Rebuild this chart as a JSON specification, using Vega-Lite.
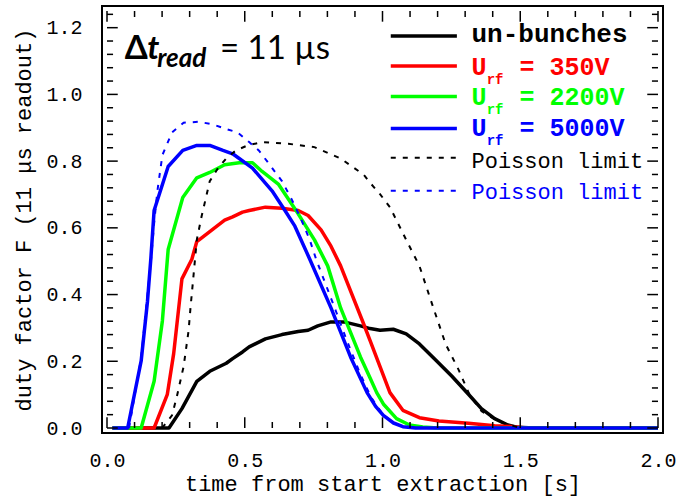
{
  "$schema": "https://vega.github.io/schema/vega-lite/v6.json",
  "width": 561,
  "height": 427,
  "autosize": {"type": "none"},
  "padding": {"left": 102, "top": 6, "right": 15, "bottom": 64},
  "background": "white",
  "config": {
    "view": {"stroke": "black", "strokeWidth": 2},
    "axis": {"domain": false, "ticks": false, "labelColor": "black", "titleColor": "black", "grid": false, "labelFlush": false, "labelOverlap": false}
  },
  "datasets": {
    "solid": [
      {"s":"un","t":0.02,"f":0},{"s":"un","t":0.225,"f":0},{"s":"un","t":0.272,"f":0.058},{"s":"un","t":0.326,"f":0.14},{"s":"un","t":0.373,"f":0.17},{"s":"un","t":0.433,"f":0.194},{"s":"un","t":0.456,"f":0.208},{"s":"un","t":0.492,"f":0.228},{"s":"un","t":0.516,"f":0.243},{"s":"un","t":0.575,"f":0.267},{"s":"un","t":0.635,"f":0.28},{"s":"un","t":0.694,"f":0.289},{"s":"un","t":0.73,"f":0.293},{"s":"un","t":0.765,"f":0.306},{"s":"un","t":0.813,"f":0.318},{"s":"un","t":0.86,"f":0.318},{"s":"un","t":0.92,"f":0.306},{"s":"un","t":0.955,"f":0.298},{"s":"un","t":0.991,"f":0.293},{"s":"un","t":1.039,"f":0.296},{"s":"un","t":1.086,"f":0.282},{"s":"un","t":1.134,"f":0.252},{"s":"un","t":1.193,"f":0.204},{"s":"un","t":1.252,"f":0.155},{"s":"un","t":1.312,"f":0.101},{"s":"un","t":1.359,"f":0.058},{"s":"un","t":1.407,"f":0.028},{"s":"un","t":1.455,"f":0.009},{"s":"un","t":1.49,"f":0.002},{"s":"un","t":1.55,"f":0},{"s":"un","t":2.0,"f":0},
      {"s":"r350","t":0.02,"f":0},{"s":"r350","t":0.171,"f":0},{"s":"r350","t":0.219,"f":0.101},{"s":"r350","t":0.242,"f":0.223},{"s":"r350","t":0.272,"f":0.447},{"s":"r350","t":0.308,"f":0.506},{"s":"r350","t":0.326,"f":0.559},{"s":"r350","t":0.373,"f":0.589},{"s":"r350","t":0.427,"f":0.623},{"s":"r350","t":0.456,"f":0.633},{"s":"r350","t":0.492,"f":0.647},{"s":"r350","t":0.516,"f":0.652},{"s":"r350","t":0.575,"f":0.662},{"s":"r350","t":0.635,"f":0.659},{"s":"r350","t":0.694,"f":0.652},{"s":"r350","t":0.73,"f":0.637},{"s":"r350","t":0.777,"f":0.594},{"s":"r350","t":0.813,"f":0.545},{"s":"r350","t":0.848,"f":0.486},{"s":"r350","t":0.932,"f":0.311},{"s":"r350","t":0.955,"f":0.262},{"s":"r350","t":0.991,"f":0.184},{"s":"r350","t":1.027,"f":0.106},{"s":"r350","t":1.074,"f":0.053},{"s":"r350","t":1.134,"f":0.031},{"s":"r350","t":1.205,"f":0.021},{"s":"r350","t":1.312,"f":0.014},{"s":"r350","t":1.407,"f":0.007},{"s":"r350","t":1.478,"f":0.004},{"s":"r350","t":1.52,"f":0},{"s":"r350","t":2.0,"f":0},
      {"s":"g2200","t":0.02,"f":0},{"s":"g2200","t":0.124,"f":0},{"s":"g2200","t":0.171,"f":0.14},{"s":"g2200","t":0.201,"f":0.321},{"s":"g2200","t":0.222,"f":0.535},{"s":"g2200","t":0.275,"f":0.691},{"s":"g2200","t":0.326,"f":0.75},{"s":"g2200","t":0.373,"f":0.766},{"s":"g2200","t":0.427,"f":0.789},{"s":"g2200","t":0.48,"f":0.795},{"s":"g2200","t":0.528,"f":0.795},{"s":"g2200","t":0.563,"f":0.769},{"s":"g2200","t":0.623,"f":0.73},{"s":"g2200","t":0.694,"f":0.642},{"s":"g2200","t":0.753,"f":0.564},{"s":"g2200","t":0.801,"f":0.486},{"s":"g2200","t":0.848,"f":0.36},{"s":"g2200","t":0.92,"f":0.213},{"s":"g2200","t":0.955,"f":0.15},{"s":"g2200","t":0.979,"f":0.106},{"s":"g2200","t":1.003,"f":0.072},{"s":"g2200","t":1.051,"f":0.028},{"s":"g2200","t":1.098,"f":0.009},{"s":"g2200","t":1.146,"f":0.003},{"s":"g2200","t":1.2,"f":0},{"s":"g2200","t":2.0,"f":0},
      {"s":"b5000","t":0.02,"f":0},{"s":"b5000","t":0.075,"f":0},{"s":"b5000","t":0.124,"f":0.201},{"s":"b5000","t":0.147,"f":0.38},{"s":"b5000","t":0.159,"f":0.506},{"s":"b5000","t":0.171,"f":0.652},{"s":"b5000","t":0.222,"f":0.784},{"s":"b5000","t":0.275,"f":0.832},{"s":"b5000","t":0.326,"f":0.847},{"s":"b5000","t":0.373,"f":0.847},{"s":"b5000","t":0.421,"f":0.832},{"s":"b5000","t":0.456,"f":0.822},{"s":"b5000","t":0.48,"f":0.808},{"s":"b5000","t":0.528,"f":0.779},{"s":"b5000","t":0.599,"f":0.711},{"s":"b5000","t":0.646,"f":0.652},{"s":"b5000","t":0.682,"f":0.605},{"s":"b5000","t":0.736,"f":0.506},{"s":"b5000","t":0.813,"f":0.36},{"s":"b5000","t":0.884,"f":0.213},{"s":"b5000","t":0.944,"f":0.106},{"s":"b5000","t":0.975,"f":0.065},{"s":"b5000","t":1.003,"f":0.038},{"s":"b5000","t":1.04,"f":0.015},{"s":"b5000","t":1.074,"f":0.004},{"s":"b5000","t":1.12,"f":0},{"s":"b5000","t":2.0,"f":0}
    ],
    "dotted": [
      {"s":"pblack","t":0.2,"f":0},{"s":"pblack","t":0.236,"f":0.038},{"s":"pblack","t":0.254,"f":0.096},{"s":"pblack","t":0.278,"f":0.184},{"s":"pblack","t":0.296,"f":0.291},{"s":"pblack","t":0.304,"f":0.369},{"s":"pblack","t":0.314,"f":0.457},{"s":"pblack","t":0.326,"f":0.564},{"s":"pblack","t":0.343,"f":0.633},{"s":"pblack","t":0.373,"f":0.74},{"s":"pblack","t":0.403,"f":0.779},{"s":"pblack","t":0.433,"f":0.808},{"s":"pblack","t":0.468,"f":0.832},{"s":"pblack","t":0.51,"f":0.847},{"s":"pblack","t":0.563,"f":0.857},{"s":"pblack","t":0.658,"f":0.852},{"s":"pblack","t":0.753,"f":0.842},{"s":"pblack","t":0.848,"f":0.808},{"s":"pblack","t":0.932,"f":0.759},{"s":"pblack","t":0.955,"f":0.735},{"s":"pblack","t":0.991,"f":0.701},{"s":"pblack","t":1.027,"f":0.662},{"s":"pblack","t":1.086,"f":0.564},{"s":"pblack","t":1.134,"f":0.486},{"s":"pblack","t":1.181,"f":0.369},{"s":"pblack","t":1.229,"f":0.252},{"s":"pblack","t":1.276,"f":0.175},{"s":"pblack","t":1.318,"f":0.096},{"s":"pblack","t":1.36,"f":0.05},{"s":"pblack","t":1.42,"f":0.02},{"s":"pblack","t":1.5,"f":0},
      {"s":"pblue","t":0.08,"f":0},{"s":"pblue","t":0.124,"f":0.21},{"s":"pblue","t":0.147,"f":0.4},{"s":"pblue","t":0.159,"f":0.496},{"s":"pblue","t":0.171,"f":0.613},{"s":"pblue","t":0.183,"f":0.711},{"s":"pblue","t":0.201,"f":0.818},{"s":"pblue","t":0.236,"f":0.886},{"s":"pblue","t":0.278,"f":0.915},{"s":"pblue","t":0.332,"f":0.918},{"s":"pblue","t":0.385,"f":0.91},{"s":"pblue","t":0.433,"f":0.896},{"s":"pblue","t":0.474,"f":0.886},{"s":"pblue","t":0.516,"f":0.857},{"s":"pblue","t":0.551,"f":0.832},{"s":"pblue","t":0.587,"f":0.793},{"s":"pblue","t":0.635,"f":0.74},{"s":"pblue","t":0.67,"f":0.686},{"s":"pblue","t":0.706,"f":0.623},{"s":"pblue","t":0.736,"f":0.564},{"s":"pblue","t":0.759,"f":0.506},{"s":"pblue","t":0.795,"f":0.428},{"s":"pblue","t":0.831,"f":0.35},{"s":"pblue","t":0.866,"f":0.272},{"s":"pblue","t":0.92,"f":0.16},{"s":"pblue","t":0.96,"f":0.09},{"s":"pblue","t":1.0,"f":0.042},{"s":"pblue","t":1.04,"f":0.015},{"s":"pblue","t":1.08,"f":0.003},{"s":"pblue","t":1.15,"f":0}
    ],
    "xticks": [
      {"v":0,"k":"M"},{"v":0.1,"k":"m"},{"v":0.2,"k":"m"},{"v":0.3,"k":"m"},{"v":0.4,"k":"m"},{"v":0.5,"k":"M"},{"v":0.6,"k":"m"},{"v":0.7,"k":"m"},{"v":0.8,"k":"m"},{"v":0.9,"k":"m"},{"v":1.0,"k":"M"},{"v":1.1,"k":"m"},{"v":1.2,"k":"m"},{"v":1.3,"k":"m"},{"v":1.4,"k":"m"},{"v":1.5,"k":"M"},{"v":1.6,"k":"m"},{"v":1.7,"k":"m"},{"v":1.8,"k":"m"},{"v":1.9,"k":"m"},{"v":2.0,"k":"M"}
    ],
    "yticks": [
      {"v":0,"k":"M"},{"v":0.04,"k":"m"},{"v":0.08,"k":"m"},{"v":0.12,"k":"m"},{"v":0.16,"k":"m"},{"v":0.2,"k":"M"},{"v":0.24,"k":"m"},{"v":0.28,"k":"m"},{"v":0.32,"k":"m"},{"v":0.36,"k":"m"},{"v":0.4,"k":"M"},{"v":0.44,"k":"m"},{"v":0.48,"k":"m"},{"v":0.52,"k":"m"},{"v":0.56,"k":"m"},{"v":0.6,"k":"M"},{"v":0.64,"k":"m"},{"v":0.68,"k":"m"},{"v":0.72,"k":"m"},{"v":0.76,"k":"m"},{"v":0.8,"k":"M"},{"v":0.84,"k":"m"},{"v":0.88,"k":"m"},{"v":0.92,"k":"m"},{"v":0.96,"k":"m"},{"v":1.0,"k":"M"},{"v":1.04,"k":"m"},{"v":1.08,"k":"m"},{"v":1.12,"k":"m"},{"v":1.16,"k":"m"},{"v":1.2,"k":"M"},{"v":1.24,"k":"m"}
    ],
    "legend": [
      {"s":"un","label":"un-bunches","ly":1.175,"ty":1.156},
      {"s":"r350","label":"= 350V","ly":1.085,"ty":1.057,"sy":1.032},
      {"s":"g2200","label":"= 2200V","ly":0.994,"ty":0.969,"sy":0.94},
      {"s":"b5000","label":"= 5000V","ly":0.898,"ty":0.876,"sy":0.847},
      {"s":"pblack","label":"Poisson limit","ly":0.81,"ty":0.779},
      {"s":"pblue","label":"Poisson limit","ly":0.711,"ty":0.686}
    ],
    "note": [{"a":"Δ","b":"t","c":"read","d":"= 11 µs"}]
  },
  "layer": [
    {
      "data": {"name": "solid"},
      "mark": {"type": "line", "strokeWidth": 3.5, "strokeJoin": "round"},
      "encoding": {
        "x": {"field": "t", "type": "quantitative", "scale": {"domain": [0, 2], "nice": false, "zero": false},
          "axis": {"orient": "bottom", "values": [0, 0.5, 1, 1.5, 2], "format": ".1f", "ticks": false,
            "labelPadding": 17, "labelFont": "Liberation Mono", "labelFontSize": 20,
            "title": "time from start extraction [s]", "titleFont": "Liberation Mono", "titleFontSize": 22, "titleFontWeight": "normal", "titlePadding": 3}},
        "y": {"field": "f", "type": "quantitative", "scale": {"domain": [0, 1.25], "nice": false, "zero": false},
          "axis": {"orient": "left", "values": [0, 0.2, 0.4, 0.6, 0.8, 1, 1.2], "format": ".1f", "ticks": false,
            "labelPadding": 20, "labelFont": "Liberation Mono", "labelFontSize": 20,
            "title": "duty factor F (11 μs readout)", "titleFont": "Liberation Mono", "titleFontSize": 22, "titleFontWeight": "normal", "titlePadding": 10}},
        "color": {"field": "s", "type": "nominal", "legend": null,
          "scale": {"domain": ["un","r350","g2200","b5000","pblack","pblue"], "range": ["#000000","#ff0000","#00ff00","#0000ff","#000000","#0000ff"]}}
      }
    },
    {
      "data": {"name": "dotted"},
      "mark": {"type": "line", "strokeWidth": 2, "strokeDash": [5, 7]},
      "encoding": {
        "x": {"field": "t", "type": "quantitative"},
        "y": {"field": "f", "type": "quantitative"},
        "color": {"field": "s", "type": "nominal", "legend": null}
      }
    },
    {
      "data": {"name": "xticks"},
      "transform": [{"filter": "datum.k == 'M'"}],
      "mark": {"type": "bar", "color": "black", "size": 1.5, "orient": "vertical"},
      "encoding": {"x": {"field": "v", "type": "quantitative"}, "y": {"datum": 0, "type": "quantitative"}, "y2": {"datum": 0.032}}
    },
    {
      "data": {"name": "xticks"},
      "transform": [{"filter": "datum.k == 'm'"}],
      "mark": {"type": "bar", "color": "black", "size": 1.5, "orient": "vertical"},
      "encoding": {"x": {"field": "v", "type": "quantitative"}, "y": {"datum": 0, "type": "quantitative"}, "y2": {"datum": 0.018}}
    },
    {
      "data": {"name": "xticks"},
      "transform": [{"filter": "datum.k == 'M'"}],
      "mark": {"type": "bar", "color": "black", "size": 1.5, "orient": "vertical"},
      "encoding": {"x": {"field": "v", "type": "quantitative"}, "y": {"datum": 1.218, "type": "quantitative"}, "y2": {"datum": 1.25}}
    },
    {
      "data": {"name": "xticks"},
      "transform": [{"filter": "datum.k == 'm'"}],
      "mark": {"type": "bar", "color": "black", "size": 1.5, "orient": "vertical"},
      "encoding": {"x": {"field": "v", "type": "quantitative"}, "y": {"datum": 1.232, "type": "quantitative"}, "y2": {"datum": 1.25}}
    },
    {
      "data": {"name": "yticks"},
      "transform": [{"filter": "datum.k == 'M'"}],
      "mark": {"type": "bar", "color": "black", "size": 1.5, "orient": "horizontal"},
      "encoding": {"y": {"field": "v", "type": "quantitative"}, "x": {"datum": 0, "type": "quantitative"}, "x2": {"datum": 0.039}}
    },
    {
      "data": {"name": "yticks"},
      "transform": [{"filter": "datum.k == 'm'"}],
      "mark": {"type": "bar", "color": "black", "size": 1.5, "orient": "horizontal"},
      "encoding": {"y": {"field": "v", "type": "quantitative"}, "x": {"datum": 0, "type": "quantitative"}, "x2": {"datum": 0.022}}
    },
    {
      "data": {"name": "yticks"},
      "transform": [{"filter": "datum.k == 'M'"}],
      "mark": {"type": "bar", "color": "black", "size": 1.5, "orient": "horizontal"},
      "encoding": {"y": {"field": "v", "type": "quantitative"}, "x": {"datum": 1.961, "type": "quantitative"}, "x2": {"datum": 2}}
    },
    {
      "data": {"name": "yticks"},
      "transform": [{"filter": "datum.k == 'm'"}],
      "mark": {"type": "bar", "color": "black", "size": 1.5, "orient": "horizontal"},
      "encoding": {"y": {"field": "v", "type": "quantitative"}, "x": {"datum": 1.978, "type": "quantitative"}, "x2": {"datum": 2}}
    },
    {
      "data": {"name": "legend"},
      "transform": [{"filter": "indexof(['un','r350','g2200','b5000'], datum.s) >= 0"}],
      "mark": {"type": "rule", "strokeWidth": 3.5},
      "encoding": {
        "x": {"datum": 1.03, "type": "quantitative"},
        "x2": {"datum": 1.27},
        "y": {"field": "ly", "type": "quantitative"},
        "color": {"field": "s", "type": "nominal", "legend": null}
      }
    },
    {
      "data": {"name": "legend"},
      "transform": [{"filter": "indexof(['pblack','pblue'], datum.s) >= 0"}],
      "mark": {"type": "rule", "strokeWidth": 2, "strokeDash": [5, 7]},
      "encoding": {
        "x": {"datum": 1.03, "type": "quantitative"},
        "x2": {"datum": 1.27},
        "y": {"field": "ly", "type": "quantitative"},
        "color": {"field": "s", "type": "nominal", "legend": null}
      }
    },
    {
      "data": {"name": "legend"},
      "transform": [{"filter": "datum.s == 'un'"}],
      "mark": {"type": "text", "align": "left", "baseline": "alphabetic", "font": "Liberation Mono", "fontWeight": "bold", "fontSize": 26},
      "encoding": {
        "x": {"datum": 1.323, "type": "quantitative"},
        "y": {"field": "ty", "type": "quantitative"},
        "text": {"field": "label"},
        "color": {"field": "s", "type": "nominal", "legend": null}
      }
    },
    {
      "data": {"name": "legend"},
      "transform": [{"filter": "indexof(['r350','g2200','b5000'], datum.s) >= 0"}],
      "mark": {"type": "text", "align": "left", "baseline": "alphabetic", "font": "Liberation Mono", "fontWeight": "bold", "fontSize": 25},
      "encoding": {
        "x": {"datum": 1.323, "type": "quantitative"},
        "y": {"field": "ty", "type": "quantitative"},
        "text": {"value": "U"},
        "color": {"field": "s", "type": "nominal", "legend": null}
      }
    },
    {
      "data": {"name": "legend"},
      "transform": [{"filter": "indexof(['r350','g2200','b5000'], datum.s) >= 0"}],
      "mark": {"type": "text", "align": "left", "baseline": "alphabetic", "font": "Liberation Mono", "fontWeight": "bold", "fontSize": 14},
      "encoding": {
        "x": {"datum": 1.378, "type": "quantitative"},
        "y": {"field": "sy", "type": "quantitative"},
        "text": {"value": "rf"},
        "color": {"field": "s", "type": "nominal", "legend": null}
      }
    },
    {
      "data": {"name": "legend"},
      "transform": [{"filter": "indexof(['r350','g2200','b5000'], datum.s) >= 0"}],
      "mark": {"type": "text", "align": "left", "baseline": "alphabetic", "font": "Liberation Mono", "fontWeight": "bold", "fontSize": 25},
      "encoding": {
        "x": {"datum": 1.497, "type": "quantitative"},
        "y": {"field": "ty", "type": "quantitative"},
        "text": {"field": "label"},
        "color": {"field": "s", "type": "nominal", "legend": null}
      }
    },
    {
      "data": {"name": "legend"},
      "transform": [{"filter": "indexof(['pblack','pblue'], datum.s) >= 0"}],
      "mark": {"type": "text", "align": "left", "baseline": "alphabetic", "font": "Liberation Mono", "fontSize": 22},
      "encoding": {
        "x": {"datum": 1.323, "type": "quantitative"},
        "y": {"field": "ty", "type": "quantitative"},
        "text": {"field": "label"},
        "color": {"field": "s", "type": "nominal", "legend": null}
      }
    },
    {
      "data": {"name": "note"},
      "mark": {"type": "text", "align": "left", "baseline": "alphabetic", "font": "Lato", "fontWeight": "bold", "fontSize": 33, "color": "black"},
      "encoding": {
        "x": {"datum": 0.064, "type": "quantitative"},
        "y": {"datum": 1.105, "type": "quantitative"},
        "text": {"field": "a"}
      }
    },
    {
      "data": {"name": "note"},
      "mark": {"type": "text", "align": "left", "baseline": "alphabetic", "font": "Lato", "fontWeight": "bold", "fontStyle": "italic", "fontSize": 33, "color": "black"},
      "encoding": {
        "x": {"datum": 0.146, "type": "quantitative"},
        "y": {"datum": 1.105, "type": "quantitative"},
        "text": {"field": "b"}
      }
    },
    {
      "data": {"name": "note"},
      "mark": {"type": "text", "align": "left", "baseline": "alphabetic", "font": "Lato", "fontWeight": "bold", "fontStyle": "italic", "fontSize": 26, "color": "black"},
      "encoding": {
        "x": {"datum": 0.182, "type": "quantitative"},
        "y": {"datum": 1.082, "type": "quantitative"},
        "text": {"field": "c"}
      }
    },
    {
      "data": {"name": "note"},
      "mark": {"type": "text", "align": "left", "baseline": "alphabetic", "font": "Lato", "fontSize": 33, "color": "black"},
      "encoding": {
        "x": {"datum": 0.41, "type": "quantitative"},
        "y": {"datum": 1.105, "type": "quantitative"},
        "text": {"field": "d"}
      }
    }
  ]
}
